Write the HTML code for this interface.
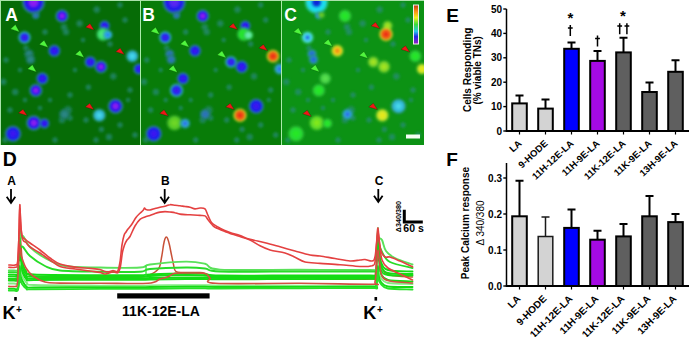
<!DOCTYPE html><html><head><meta charset="utf-8"><style>html,body{margin:0;padding:0;background:#fff;}svg{display:block}</style></head><body>
<svg width="690" height="337" viewBox="0 0 690 337">
<defs>
<filter id="bl" x="-50%" y="-50%" width="200%" height="200%"><feGaussianBlur stdDeviation="0.8"/></filter>
<filter id="bl3" x="-50%" y="-50%" width="200%" height="200%"><feGaussianBlur stdDeviation="0.35"/></filter>
<filter id="bl2" x="-50%" y="-50%" width="200%" height="200%"><feGaussianBlur stdDeviation="1.2"/></filter>
<radialGradient id="g1" cx="50%" cy="50%" r="50%"><stop offset="0" stop-color="rgb(140,30,240)"/><stop offset="0.243" stop-color="rgb(140,30,240)"/><stop offset="0.487" stop-color="rgb(40,22,236)"/><stop offset="0.689" stop-color="rgb(40,22,236)"/><stop offset="0.827" stop-color="rgb(40,130,150)" stop-opacity="0.85"/><stop offset="1" stop-color="rgb(40,130,150)" stop-opacity="0"/></radialGradient>
<radialGradient id="g2" cx="50%" cy="50%" r="50%"><stop offset="0" stop-color="rgb(140,30,240)"/><stop offset="0.209" stop-color="rgb(140,30,240)"/><stop offset="0.418" stop-color="rgb(40,22,236)"/><stop offset="0.592" stop-color="rgb(40,22,236)"/><stop offset="0.710" stop-color="rgb(40,130,150)" stop-opacity="0.85"/><stop offset="1" stop-color="rgb(40,130,150)" stop-opacity="0"/></radialGradient>
<radialGradient id="g3" cx="50%" cy="50%" r="50%"><stop offset="0" stop-color="rgb(45,110,190)"/><stop offset="0.162" stop-color="rgb(45,110,190)"/><stop offset="0.323" stop-color="rgb(40,125,160)"/><stop offset="0.458" stop-color="rgb(40,125,160)"/><stop offset="0.549" stop-color="rgb(30,120,100)" stop-opacity="0.85"/><stop offset="1" stop-color="rgb(30,120,100)" stop-opacity="0"/></radialGradient>
<radialGradient id="g4" cx="50%" cy="50%" r="50%"><stop offset="0" stop-color="rgb(60,25,240)"/><stop offset="0.203" stop-color="rgb(60,25,240)"/><stop offset="0.405" stop-color="rgb(35,50,235)"/><stop offset="0.574" stop-color="rgb(35,50,235)"/><stop offset="0.689" stop-color="rgb(50,170,200)" stop-opacity="0.85"/><stop offset="1" stop-color="rgb(50,170,200)" stop-opacity="0"/></radialGradient>
<radialGradient id="g5" cx="50%" cy="50%" r="50%"><stop offset="0" stop-color="rgb(60,25,240)"/><stop offset="0.203" stop-color="rgb(60,25,240)"/><stop offset="0.405" stop-color="rgb(30,30,235)"/><stop offset="0.574" stop-color="rgb(30,30,235)"/><stop offset="0.689" stop-color="rgb(40,120,170)" stop-opacity="0.85"/><stop offset="1" stop-color="rgb(40,120,170)" stop-opacity="0"/></radialGradient>
<radialGradient id="g6" cx="50%" cy="50%" r="50%"><stop offset="0" stop-color="rgb(45,135,135)"/><stop offset="0.184" stop-color="rgb(45,135,135)"/><stop offset="0.368" stop-color="rgb(35,128,118)"/><stop offset="0.521" stop-color="rgb(35,128,118)"/><stop offset="0.625" stop-color="rgb(25,118,85)" stop-opacity="0.85"/><stop offset="1" stop-color="rgb(25,118,85)" stop-opacity="0"/></radialGradient>
<radialGradient id="g7" cx="50%" cy="50%" r="50%"><stop offset="0" stop-color="rgb(45,135,135)"/><stop offset="0.184" stop-color="rgb(45,135,135)"/><stop offset="0.368" stop-color="rgb(35,128,118)"/><stop offset="0.521" stop-color="rgb(35,128,118)"/><stop offset="0.625" stop-color="rgb(25,118,85)" stop-opacity="0.85"/><stop offset="1" stop-color="rgb(25,118,85)" stop-opacity="0"/></radialGradient>
<radialGradient id="g8" cx="50%" cy="50%" r="50%"><stop offset="0" stop-color="rgb(60,25,240)"/><stop offset="0.191" stop-color="rgb(60,25,240)"/><stop offset="0.382" stop-color="rgb(30,30,235)"/><stop offset="0.541" stop-color="rgb(30,30,235)"/><stop offset="0.649" stop-color="rgb(40,120,170)" stop-opacity="0.85"/><stop offset="1" stop-color="rgb(40,120,170)" stop-opacity="0"/></radialGradient>
<radialGradient id="g9" cx="50%" cy="50%" r="50%"><stop offset="0" stop-color="rgb(80,235,130)"/><stop offset="0.210" stop-color="rgb(80,235,130)"/><stop offset="0.420" stop-color="rgb(60,225,110)"/><stop offset="0.595" stop-color="rgb(60,225,110)"/><stop offset="0.714" stop-color="rgb(40,180,80)" stop-opacity="0.85"/><stop offset="1" stop-color="rgb(40,180,80)" stop-opacity="0"/></radialGradient>
<radialGradient id="g10" cx="50%" cy="50%" r="50%"><stop offset="0" stop-color="rgb(70,215,235)"/><stop offset="0.205" stop-color="rgb(70,215,235)"/><stop offset="0.411" stop-color="rgb(50,185,215)"/><stop offset="0.582" stop-color="rgb(50,185,215)"/><stop offset="0.698" stop-color="rgb(40,150,130)" stop-opacity="0.85"/><stop offset="1" stop-color="rgb(40,150,130)" stop-opacity="0"/></radialGradient>
<radialGradient id="g11" cx="50%" cy="50%" r="50%"><stop offset="0" stop-color="rgb(60,25,240)"/><stop offset="0.199" stop-color="rgb(60,25,240)"/><stop offset="0.397" stop-color="rgb(30,30,235)"/><stop offset="0.563" stop-color="rgb(30,30,235)"/><stop offset="0.675" stop-color="rgb(40,120,170)" stop-opacity="0.85"/><stop offset="1" stop-color="rgb(40,120,170)" stop-opacity="0"/></radialGradient>
<radialGradient id="g12" cx="50%" cy="50%" r="50%"><stop offset="0" stop-color="rgb(140,30,240)"/><stop offset="0.206" stop-color="rgb(140,30,240)"/><stop offset="0.413" stop-color="rgb(40,22,236)"/><stop offset="0.585" stop-color="rgb(40,22,236)"/><stop offset="0.702" stop-color="rgb(40,130,150)" stop-opacity="0.85"/><stop offset="1" stop-color="rgb(40,130,150)" stop-opacity="0"/></radialGradient>
<radialGradient id="g13" cx="50%" cy="50%" r="50%"><stop offset="0" stop-color="rgb(60,25,240)"/><stop offset="0.196" stop-color="rgb(60,25,240)"/><stop offset="0.391" stop-color="rgb(30,30,235)"/><stop offset="0.554" stop-color="rgb(30,30,235)"/><stop offset="0.665" stop-color="rgb(40,120,170)" stop-opacity="0.85"/><stop offset="1" stop-color="rgb(40,120,170)" stop-opacity="0"/></radialGradient>
<radialGradient id="g14" cx="50%" cy="50%" r="50%"><stop offset="0" stop-color="rgb(60,25,240)"/><stop offset="0.203" stop-color="rgb(60,25,240)"/><stop offset="0.405" stop-color="rgb(30,30,235)"/><stop offset="0.574" stop-color="rgb(30,30,235)"/><stop offset="0.689" stop-color="rgb(40,120,170)" stop-opacity="0.85"/><stop offset="1" stop-color="rgb(40,120,170)" stop-opacity="0"/></radialGradient>
<radialGradient id="g15" cx="50%" cy="50%" r="50%"><stop offset="0" stop-color="rgb(140,30,240)"/><stop offset="0.209" stop-color="rgb(140,30,240)"/><stop offset="0.418" stop-color="rgb(40,22,236)"/><stop offset="0.592" stop-color="rgb(40,22,236)"/><stop offset="0.710" stop-color="rgb(40,130,150)" stop-opacity="0.85"/><stop offset="1" stop-color="rgb(40,130,150)" stop-opacity="0"/></radialGradient>
<radialGradient id="g16" cx="50%" cy="50%" r="50%"><stop offset="0" stop-color="rgb(140,30,240)"/><stop offset="0.219" stop-color="rgb(140,30,240)"/><stop offset="0.438" stop-color="rgb(40,22,236)"/><stop offset="0.621" stop-color="rgb(40,22,236)"/><stop offset="0.745" stop-color="rgb(40,130,150)" stop-opacity="0.85"/><stop offset="1" stop-color="rgb(40,130,150)" stop-opacity="0"/></radialGradient>
<radialGradient id="g17" cx="50%" cy="50%" r="50%"><stop offset="0" stop-color="rgb(60,25,240)"/><stop offset="0.187" stop-color="rgb(60,25,240)"/><stop offset="0.375" stop-color="rgb(30,30,235)"/><stop offset="0.531" stop-color="rgb(30,30,235)"/><stop offset="0.637" stop-color="rgb(40,120,170)" stop-opacity="0.85"/><stop offset="1" stop-color="rgb(40,120,170)" stop-opacity="0"/></radialGradient>
<radialGradient id="g18" cx="50%" cy="50%" r="50%"><stop offset="0" stop-color="rgb(60,25,240)"/><stop offset="0.223" stop-color="rgb(60,25,240)"/><stop offset="0.447" stop-color="rgb(30,30,235)"/><stop offset="0.633" stop-color="rgb(30,30,235)"/><stop offset="0.760" stop-color="rgb(40,120,170)" stop-opacity="0.85"/><stop offset="1" stop-color="rgb(40,120,170)" stop-opacity="0"/></radialGradient>
<radialGradient id="g19" cx="50%" cy="50%" r="50%"><stop offset="0" stop-color="rgb(45,135,135)"/><stop offset="0.196" stop-color="rgb(45,135,135)"/><stop offset="0.391" stop-color="rgb(35,128,118)"/><stop offset="0.554" stop-color="rgb(35,128,118)"/><stop offset="0.665" stop-color="rgb(25,118,85)" stop-opacity="0.85"/><stop offset="1" stop-color="rgb(25,118,85)" stop-opacity="0"/></radialGradient>
<radialGradient id="g20" cx="50%" cy="50%" r="50%"><stop offset="0" stop-color="rgb(140,30,240)"/><stop offset="0.219" stop-color="rgb(140,30,240)"/><stop offset="0.438" stop-color="rgb(40,22,236)"/><stop offset="0.621" stop-color="rgb(40,22,236)"/><stop offset="0.745" stop-color="rgb(40,130,150)" stop-opacity="0.85"/><stop offset="1" stop-color="rgb(40,130,150)" stop-opacity="0"/></radialGradient>
<radialGradient id="g21" cx="50%" cy="50%" r="50%"><stop offset="0" stop-color="rgb(70,215,235)"/><stop offset="0.209" stop-color="rgb(70,215,235)"/><stop offset="0.418" stop-color="rgb(50,185,215)"/><stop offset="0.592" stop-color="rgb(50,185,215)"/><stop offset="0.710" stop-color="rgb(40,150,130)" stop-opacity="0.85"/><stop offset="1" stop-color="rgb(40,150,130)" stop-opacity="0"/></radialGradient>
<radialGradient id="g22" cx="50%" cy="50%" r="50%"><stop offset="0" stop-color="rgb(90,40,240)"/><stop offset="0.243" stop-color="rgb(90,40,240)"/><stop offset="0.487" stop-color="rgb(35,30,235)"/><stop offset="0.689" stop-color="rgb(35,30,235)"/><stop offset="0.827" stop-color="rgb(40,120,170)" stop-opacity="0.85"/><stop offset="1" stop-color="rgb(40,120,170)" stop-opacity="0"/></radialGradient>
<radialGradient id="g23" cx="50%" cy="50%" r="50%"><stop offset="0" stop-color="rgb(140,30,240)"/><stop offset="0.209" stop-color="rgb(140,30,240)"/><stop offset="0.418" stop-color="rgb(40,22,236)"/><stop offset="0.592" stop-color="rgb(40,22,236)"/><stop offset="0.710" stop-color="rgb(40,130,150)" stop-opacity="0.85"/><stop offset="1" stop-color="rgb(40,130,150)" stop-opacity="0"/></radialGradient>
<radialGradient id="g24" cx="50%" cy="50%" r="50%"><stop offset="0" stop-color="rgb(45,110,190)"/><stop offset="0.162" stop-color="rgb(45,110,190)"/><stop offset="0.323" stop-color="rgb(40,125,160)"/><stop offset="0.458" stop-color="rgb(40,125,160)"/><stop offset="0.549" stop-color="rgb(30,120,100)" stop-opacity="0.85"/><stop offset="1" stop-color="rgb(30,120,100)" stop-opacity="0"/></radialGradient>
<radialGradient id="g25" cx="50%" cy="50%" r="50%"><stop offset="0" stop-color="rgb(60,25,240)"/><stop offset="0.203" stop-color="rgb(60,25,240)"/><stop offset="0.405" stop-color="rgb(35,50,235)"/><stop offset="0.574" stop-color="rgb(35,50,235)"/><stop offset="0.689" stop-color="rgb(50,170,200)" stop-opacity="0.85"/><stop offset="1" stop-color="rgb(50,170,200)" stop-opacity="0"/></radialGradient>
<radialGradient id="g26" cx="50%" cy="50%" r="50%"><stop offset="0" stop-color="rgb(60,25,240)"/><stop offset="0.203" stop-color="rgb(60,25,240)"/><stop offset="0.405" stop-color="rgb(30,30,235)"/><stop offset="0.574" stop-color="rgb(30,30,235)"/><stop offset="0.689" stop-color="rgb(40,120,170)" stop-opacity="0.85"/><stop offset="1" stop-color="rgb(40,120,170)" stop-opacity="0"/></radialGradient>
<radialGradient id="g27" cx="50%" cy="50%" r="50%"><stop offset="0" stop-color="rgb(45,110,190)"/><stop offset="0.184" stop-color="rgb(45,110,190)"/><stop offset="0.368" stop-color="rgb(40,125,160)"/><stop offset="0.521" stop-color="rgb(40,125,160)"/><stop offset="0.625" stop-color="rgb(30,120,100)" stop-opacity="0.85"/><stop offset="1" stop-color="rgb(30,120,100)" stop-opacity="0"/></radialGradient>
<radialGradient id="g28" cx="50%" cy="50%" r="50%"><stop offset="0" stop-color="rgb(45,110,190)"/><stop offset="0.184" stop-color="rgb(45,110,190)"/><stop offset="0.368" stop-color="rgb(40,125,160)"/><stop offset="0.521" stop-color="rgb(40,125,160)"/><stop offset="0.625" stop-color="rgb(30,120,100)" stop-opacity="0.85"/><stop offset="1" stop-color="rgb(30,120,100)" stop-opacity="0"/></radialGradient>
<radialGradient id="g29" cx="50%" cy="50%" r="50%"><stop offset="0" stop-color="rgb(60,25,240)"/><stop offset="0.191" stop-color="rgb(60,25,240)"/><stop offset="0.382" stop-color="rgb(30,30,235)"/><stop offset="0.541" stop-color="rgb(30,30,235)"/><stop offset="0.649" stop-color="rgb(40,120,170)" stop-opacity="0.85"/><stop offset="1" stop-color="rgb(40,120,170)" stop-opacity="0"/></radialGradient>
<radialGradient id="g30" cx="50%" cy="50%" r="50%"><stop offset="0" stop-color="rgb(40,230,40)"/><stop offset="0.210" stop-color="rgb(40,230,40)"/><stop offset="0.420" stop-color="rgb(40,225,50)"/><stop offset="0.595" stop-color="rgb(40,225,50)"/><stop offset="0.714" stop-color="rgb(40,185,60)" stop-opacity="0.85"/><stop offset="1" stop-color="rgb(40,185,60)" stop-opacity="0"/></radialGradient>
<radialGradient id="g31" cx="50%" cy="50%" r="50%"><stop offset="0" stop-color="rgb(238,45,20)"/><stop offset="0.205" stop-color="rgb(238,45,20)"/><stop offset="0.411" stop-color="rgb(240,100,20)"/><stop offset="0.582" stop-color="rgb(240,100,20)"/><stop offset="0.698" stop-color="rgb(215,205,40)" stop-opacity="0.85"/><stop offset="1" stop-color="rgb(215,205,40)" stop-opacity="0"/></radialGradient>
<radialGradient id="g32" cx="50%" cy="50%" r="50%"><stop offset="0" stop-color="rgb(60,25,240)"/><stop offset="0.199" stop-color="rgb(60,25,240)"/><stop offset="0.397" stop-color="rgb(35,50,235)"/><stop offset="0.563" stop-color="rgb(35,50,235)"/><stop offset="0.675" stop-color="rgb(50,170,200)" stop-opacity="0.85"/><stop offset="1" stop-color="rgb(50,170,200)" stop-opacity="0"/></radialGradient>
<radialGradient id="g33" cx="50%" cy="50%" r="50%"><stop offset="0" stop-color="rgb(60,25,240)"/><stop offset="0.206" stop-color="rgb(60,25,240)"/><stop offset="0.413" stop-color="rgb(30,30,235)"/><stop offset="0.585" stop-color="rgb(30,30,235)"/><stop offset="0.702" stop-color="rgb(40,120,170)" stop-opacity="0.85"/><stop offset="1" stop-color="rgb(40,120,170)" stop-opacity="0"/></radialGradient>
<radialGradient id="g34" cx="50%" cy="50%" r="50%"><stop offset="0" stop-color="rgb(45,110,235)"/><stop offset="0.196" stop-color="rgb(45,110,235)"/><stop offset="0.391" stop-color="rgb(45,160,215)"/><stop offset="0.554" stop-color="rgb(45,160,215)"/><stop offset="0.665" stop-color="rgb(35,150,140)" stop-opacity="0.85"/><stop offset="1" stop-color="rgb(35,150,140)" stop-opacity="0"/></radialGradient>
<radialGradient id="g35" cx="50%" cy="50%" r="50%"><stop offset="0" stop-color="rgb(60,25,240)"/><stop offset="0.203" stop-color="rgb(60,25,240)"/><stop offset="0.405" stop-color="rgb(30,30,235)"/><stop offset="0.574" stop-color="rgb(30,30,235)"/><stop offset="0.689" stop-color="rgb(40,120,170)" stop-opacity="0.85"/><stop offset="1" stop-color="rgb(40,120,170)" stop-opacity="0"/></radialGradient>
<radialGradient id="g36" cx="50%" cy="50%" r="50%"><stop offset="0" stop-color="rgb(60,25,240)"/><stop offset="0.209" stop-color="rgb(60,25,240)"/><stop offset="0.418" stop-color="rgb(35,50,235)"/><stop offset="0.592" stop-color="rgb(35,50,235)"/><stop offset="0.710" stop-color="rgb(50,170,200)" stop-opacity="0.85"/><stop offset="1" stop-color="rgb(50,170,200)" stop-opacity="0"/></radialGradient>
<radialGradient id="g37" cx="50%" cy="50%" r="50%"><stop offset="0" stop-color="rgb(110,215,40)"/><stop offset="0.219" stop-color="rgb(110,215,40)"/><stop offset="0.438" stop-color="rgb(90,205,40)"/><stop offset="0.621" stop-color="rgb(90,205,40)"/><stop offset="0.745" stop-color="rgb(60,180,40)" stop-opacity="0.85"/><stop offset="1" stop-color="rgb(60,180,40)" stop-opacity="0"/></radialGradient>
<radialGradient id="g38" cx="50%" cy="50%" r="50%"><stop offset="0" stop-color="rgb(45,110,235)"/><stop offset="0.187" stop-color="rgb(45,110,235)"/><stop offset="0.375" stop-color="rgb(45,160,215)"/><stop offset="0.531" stop-color="rgb(45,160,215)"/><stop offset="0.637" stop-color="rgb(35,150,140)" stop-opacity="0.85"/><stop offset="1" stop-color="rgb(35,150,140)" stop-opacity="0"/></radialGradient>
<radialGradient id="g39" cx="50%" cy="50%" r="50%"><stop offset="0" stop-color="rgb(60,25,240)"/><stop offset="0.223" stop-color="rgb(60,25,240)"/><stop offset="0.447" stop-color="rgb(30,30,235)"/><stop offset="0.633" stop-color="rgb(30,30,235)"/><stop offset="0.760" stop-color="rgb(40,120,170)" stop-opacity="0.85"/><stop offset="1" stop-color="rgb(40,120,170)" stop-opacity="0"/></radialGradient>
<radialGradient id="g40" cx="50%" cy="50%" r="50%"><stop offset="0" stop-color="rgb(45,110,190)"/><stop offset="0.196" stop-color="rgb(45,110,190)"/><stop offset="0.391" stop-color="rgb(40,125,160)"/><stop offset="0.554" stop-color="rgb(40,125,160)"/><stop offset="0.665" stop-color="rgb(30,120,100)" stop-opacity="0.85"/><stop offset="1" stop-color="rgb(30,120,100)" stop-opacity="0"/></radialGradient>
<radialGradient id="g41" cx="50%" cy="50%" r="50%"><stop offset="0" stop-color="rgb(60,25,240)"/><stop offset="0.219" stop-color="rgb(60,25,240)"/><stop offset="0.438" stop-color="rgb(30,30,235)"/><stop offset="0.621" stop-color="rgb(30,30,235)"/><stop offset="0.745" stop-color="rgb(40,120,170)" stop-opacity="0.85"/><stop offset="1" stop-color="rgb(40,120,170)" stop-opacity="0"/></radialGradient>
<radialGradient id="g42" cx="50%" cy="50%" r="50%"><stop offset="0" stop-color="rgb(238,45,20)"/><stop offset="0.209" stop-color="rgb(238,45,20)"/><stop offset="0.418" stop-color="rgb(240,100,20)"/><stop offset="0.592" stop-color="rgb(240,100,20)"/><stop offset="0.710" stop-color="rgb(215,205,40)" stop-opacity="0.85"/><stop offset="1" stop-color="rgb(215,205,40)" stop-opacity="0"/></radialGradient>
<radialGradient id="g43" cx="50%" cy="50%" r="50%"><stop offset="0" stop-color="rgb(10,40,215)"/><stop offset="0.243" stop-color="rgb(10,40,215)"/><stop offset="0.487" stop-color="rgb(30,222,240)"/><stop offset="0.689" stop-color="rgb(30,222,240)"/><stop offset="0.827" stop-color="rgb(40,200,170)" stop-opacity="0.85"/><stop offset="1" stop-color="rgb(40,200,170)" stop-opacity="0"/></radialGradient>
<radialGradient id="g44" cx="50%" cy="50%" r="50%"><stop offset="0" stop-color="rgb(40,232,40)"/><stop offset="0.209" stop-color="rgb(40,232,40)"/><stop offset="0.418" stop-color="rgb(40,220,50)"/><stop offset="0.592" stop-color="rgb(40,220,50)"/><stop offset="0.710" stop-color="rgb(40,180,50)" stop-opacity="0.85"/><stop offset="1" stop-color="rgb(40,180,50)" stop-opacity="0"/></radialGradient>
<radialGradient id="g45" cx="50%" cy="50%" r="50%"><stop offset="0" stop-color="rgb(45,110,235)"/><stop offset="0.162" stop-color="rgb(45,110,235)"/><stop offset="0.323" stop-color="rgb(45,160,215)"/><stop offset="0.458" stop-color="rgb(45,160,215)"/><stop offset="0.549" stop-color="rgb(35,150,140)" stop-opacity="0.85"/><stop offset="1" stop-color="rgb(35,150,140)" stop-opacity="0"/></radialGradient>
<radialGradient id="g46" cx="50%" cy="50%" r="50%"><stop offset="0" stop-color="rgb(40,120,230)"/><stop offset="0.203" stop-color="rgb(40,120,230)"/><stop offset="0.405" stop-color="rgb(70,215,235)"/><stop offset="0.574" stop-color="rgb(70,215,235)"/><stop offset="0.689" stop-color="rgb(60,200,140)" stop-opacity="0.85"/><stop offset="1" stop-color="rgb(60,200,140)" stop-opacity="0"/></radialGradient>
<radialGradient id="g47" cx="50%" cy="50%" r="50%"><stop offset="0" stop-color="rgb(245,140,20)"/><stop offset="0.203" stop-color="rgb(245,140,20)"/><stop offset="0.405" stop-color="rgb(235,205,30)"/><stop offset="0.574" stop-color="rgb(235,205,30)"/><stop offset="0.689" stop-color="rgb(150,210,40)" stop-opacity="0.85"/><stop offset="1" stop-color="rgb(150,210,40)" stop-opacity="0"/></radialGradient>
<radialGradient id="g48" cx="50%" cy="50%" r="50%"><stop offset="0" stop-color="rgb(40,100,220)"/><stop offset="0.184" stop-color="rgb(40,100,220)"/><stop offset="0.368" stop-color="rgb(40,130,200)"/><stop offset="0.521" stop-color="rgb(40,130,200)"/><stop offset="0.625" stop-color="rgb(40,150,120)" stop-opacity="0.85"/><stop offset="1" stop-color="rgb(40,150,120)" stop-opacity="0"/></radialGradient>
<radialGradient id="g49" cx="50%" cy="50%" r="50%"><stop offset="0" stop-color="rgb(40,100,220)"/><stop offset="0.184" stop-color="rgb(40,100,220)"/><stop offset="0.368" stop-color="rgb(40,130,200)"/><stop offset="0.521" stop-color="rgb(40,130,200)"/><stop offset="0.625" stop-color="rgb(40,150,120)" stop-opacity="0.85"/><stop offset="1" stop-color="rgb(40,150,120)" stop-opacity="0"/></radialGradient>
<radialGradient id="g50" cx="50%" cy="50%" r="50%"><stop offset="0" stop-color="rgb(165,228,35)"/><stop offset="0.191" stop-color="rgb(165,228,35)"/><stop offset="0.382" stop-color="rgb(130,215,40)"/><stop offset="0.541" stop-color="rgb(130,215,40)"/><stop offset="0.649" stop-color="rgb(70,185,40)" stop-opacity="0.85"/><stop offset="1" stop-color="rgb(70,185,40)" stop-opacity="0"/></radialGradient>
<radialGradient id="g51" cx="50%" cy="50%" r="50%"><stop offset="0" stop-color="rgb(238,45,20)"/><stop offset="0.210" stop-color="rgb(238,45,20)"/><stop offset="0.420" stop-color="rgb(240,100,20)"/><stop offset="0.595" stop-color="rgb(240,100,20)"/><stop offset="0.714" stop-color="rgb(215,205,40)" stop-opacity="0.85"/><stop offset="1" stop-color="rgb(215,205,40)" stop-opacity="0"/></radialGradient>
<radialGradient id="g52" cx="50%" cy="50%" r="50%"><stop offset="0" stop-color="rgb(40,232,40)"/><stop offset="0.205" stop-color="rgb(40,232,40)"/><stop offset="0.411" stop-color="rgb(40,220,50)"/><stop offset="0.582" stop-color="rgb(40,220,50)"/><stop offset="0.698" stop-color="rgb(40,180,50)" stop-opacity="0.85"/><stop offset="1" stop-color="rgb(40,180,50)" stop-opacity="0"/></radialGradient>
<radialGradient id="g53" cx="50%" cy="50%" r="50%"><stop offset="0" stop-color="rgb(165,228,35)"/><stop offset="0.199" stop-color="rgb(165,228,35)"/><stop offset="0.397" stop-color="rgb(130,215,40)"/><stop offset="0.563" stop-color="rgb(130,215,40)"/><stop offset="0.675" stop-color="rgb(70,185,40)" stop-opacity="0.85"/><stop offset="1" stop-color="rgb(70,185,40)" stop-opacity="0"/></radialGradient>
<radialGradient id="g54" cx="50%" cy="50%" r="50%"><stop offset="0" stop-color="rgb(165,228,35)"/><stop offset="0.206" stop-color="rgb(165,228,35)"/><stop offset="0.413" stop-color="rgb(130,215,40)"/><stop offset="0.585" stop-color="rgb(130,215,40)"/><stop offset="0.702" stop-color="rgb(70,185,40)" stop-opacity="0.85"/><stop offset="1" stop-color="rgb(70,185,40)" stop-opacity="0"/></radialGradient>
<radialGradient id="g55" cx="50%" cy="50%" r="50%"><stop offset="0" stop-color="rgb(232,232,30)"/><stop offset="0.196" stop-color="rgb(232,232,30)"/><stop offset="0.391" stop-color="rgb(205,230,40)"/><stop offset="0.554" stop-color="rgb(205,230,40)"/><stop offset="0.665" stop-color="rgb(120,200,40)" stop-opacity="0.85"/><stop offset="1" stop-color="rgb(120,200,40)" stop-opacity="0"/></radialGradient>
<radialGradient id="g56" cx="50%" cy="50%" r="50%"><stop offset="0" stop-color="rgb(90,225,80)"/><stop offset="0.203" stop-color="rgb(90,225,80)"/><stop offset="0.405" stop-color="rgb(70,210,70)"/><stop offset="0.574" stop-color="rgb(70,210,70)"/><stop offset="0.689" stop-color="rgb(40,175,50)" stop-opacity="0.85"/><stop offset="1" stop-color="rgb(40,175,50)" stop-opacity="0"/></radialGradient>
<radialGradient id="g57" cx="50%" cy="50%" r="50%"><stop offset="0" stop-color="rgb(40,232,40)"/><stop offset="0.209" stop-color="rgb(40,232,40)"/><stop offset="0.418" stop-color="rgb(40,220,50)"/><stop offset="0.592" stop-color="rgb(40,220,50)"/><stop offset="0.710" stop-color="rgb(40,180,50)" stop-opacity="0.85"/><stop offset="1" stop-color="rgb(40,180,50)" stop-opacity="0"/></radialGradient>
<radialGradient id="g58" cx="50%" cy="50%" r="50%"><stop offset="0" stop-color="rgb(130,232,30)"/><stop offset="0.219" stop-color="rgb(130,232,30)"/><stop offset="0.438" stop-color="rgb(100,222,40)"/><stop offset="0.621" stop-color="rgb(100,222,40)"/><stop offset="0.745" stop-color="rgb(60,190,40)" stop-opacity="0.85"/><stop offset="1" stop-color="rgb(60,190,40)" stop-opacity="0"/></radialGradient>
<radialGradient id="g59" cx="50%" cy="50%" r="50%"><stop offset="0" stop-color="rgb(40,232,40)"/><stop offset="0.187" stop-color="rgb(40,232,40)"/><stop offset="0.375" stop-color="rgb(40,220,50)"/><stop offset="0.531" stop-color="rgb(40,220,50)"/><stop offset="0.637" stop-color="rgb(40,180,50)" stop-opacity="0.85"/><stop offset="1" stop-color="rgb(40,180,50)" stop-opacity="0"/></radialGradient>
<radialGradient id="g60" cx="50%" cy="50%" r="50%"><stop offset="0" stop-color="rgb(40,232,40)"/><stop offset="0.223" stop-color="rgb(40,232,40)"/><stop offset="0.447" stop-color="rgb(40,220,50)"/><stop offset="0.633" stop-color="rgb(40,220,50)"/><stop offset="0.760" stop-color="rgb(40,180,50)" stop-opacity="0.85"/><stop offset="1" stop-color="rgb(40,180,50)" stop-opacity="0"/></radialGradient>
<radialGradient id="g61" cx="50%" cy="50%" r="50%"><stop offset="0" stop-color="rgb(45,110,235)"/><stop offset="0.196" stop-color="rgb(45,110,235)"/><stop offset="0.391" stop-color="rgb(45,160,215)"/><stop offset="0.554" stop-color="rgb(45,160,215)"/><stop offset="0.665" stop-color="rgb(35,150,140)" stop-opacity="0.85"/><stop offset="1" stop-color="rgb(35,150,140)" stop-opacity="0"/></radialGradient>
<radialGradient id="g62" cx="50%" cy="50%" r="50%"><stop offset="0" stop-color="rgb(70,215,235)"/><stop offset="0.219" stop-color="rgb(70,215,235)"/><stop offset="0.438" stop-color="rgb(50,185,215)"/><stop offset="0.621" stop-color="rgb(50,185,215)"/><stop offset="0.745" stop-color="rgb(40,150,130)" stop-opacity="0.85"/><stop offset="1" stop-color="rgb(40,150,130)" stop-opacity="0"/></radialGradient>
<radialGradient id="g63" cx="50%" cy="50%" r="50%"><stop offset="0" stop-color="rgb(232,232,30)"/><stop offset="0.209" stop-color="rgb(232,232,30)"/><stop offset="0.418" stop-color="rgb(205,230,40)"/><stop offset="0.592" stop-color="rgb(205,230,40)"/><stop offset="0.710" stop-color="rgb(120,200,40)" stop-opacity="0.85"/><stop offset="1" stop-color="rgb(120,200,40)" stop-opacity="0"/></radialGradient>
<radialGradient id="g64" cx="50%" cy="50%" r="50%"><stop offset="0" stop-color="rgb(40,130,240)"/><stop offset="0.180" stop-color="rgb(40,130,240)"/><stop offset="0.360" stop-color="rgb(50,170,230)"/><stop offset="0.510" stop-color="rgb(50,170,230)"/><stop offset="0.612" stop-color="rgb(40,160,160)" stop-opacity="0.85"/><stop offset="1" stop-color="rgb(40,160,160)" stop-opacity="0"/></radialGradient>
<radialGradient id="g65" cx="50%" cy="50%" r="50%"><stop offset="0" stop-color="rgb(110,235,180)"/><stop offset="0.180" stop-color="rgb(110,235,180)"/><stop offset="0.360" stop-color="rgb(90,230,150)"/><stop offset="0.510" stop-color="rgb(90,230,150)"/><stop offset="0.612" stop-color="rgb(50,200,90)" stop-opacity="0.85"/><stop offset="1" stop-color="rgb(50,200,90)" stop-opacity="0"/></radialGradient>
<radialGradient id="g66" cx="50%" cy="50%" r="50%"><stop offset="0" stop-color="rgb(110,205,40)"/><stop offset="0.153" stop-color="rgb(110,205,40)"/><stop offset="0.306" stop-color="rgb(90,195,40)"/><stop offset="0.434" stop-color="rgb(90,195,40)"/><stop offset="0.520" stop-color="rgb(60,175,40)" stop-opacity="0.85"/><stop offset="1" stop-color="rgb(60,175,40)" stop-opacity="0"/></radialGradient>
<radialGradient id="deb" cx="50%" cy="50%" r="50%"><stop offset="0" stop-color="rgb(40,140,130)" stop-opacity="0.85"/><stop offset="0.4" stop-color="rgb(40,140,130)" stop-opacity="0.6"/><stop offset="1" stop-color="rgb(40,140,130)" stop-opacity="0"/></radialGradient>
<clipPath id="cp0"><rect x="0" y="0" width="140" height="145"/></clipPath>
<clipPath id="cp1"><rect x="141" y="0" width="140" height="145"/></clipPath>
<clipPath id="cp2"><rect x="282" y="0" width="142" height="145"/></clipPath>
</defs>
<g clip-path="url(#cp0)">
<rect x="0" y="0" width="140" height="145" fill="rgb(6,108,6)"/>
<g filter="url(#bl2)">
<circle cx="36.0" cy="14.0" r="4.8" fill="url(#deb)"/>
<circle cx="64.0" cy="27.0" r="4.8" fill="url(#deb)"/>
<circle cx="66.0" cy="32.0" r="4.8" fill="url(#deb)"/>
<circle cx="96.7" cy="9.6" r="4.8" fill="url(#deb)"/>
<circle cx="79.6" cy="23.5" r="4.8" fill="url(#deb)"/>
<circle cx="3.3" cy="81.8" r="4.8" fill="url(#deb)"/>
<circle cx="15.2" cy="92.0" r="4.8" fill="url(#deb)"/>
<circle cx="109.0" cy="137.0" r="4.8" fill="url(#deb)"/>
<circle cx="101.4" cy="129.4" r="4.0" fill="url(#deb)"/>
<circle cx="88.4" cy="87.2" r="4.0" fill="url(#deb)"/>
<circle cx="113.3" cy="76.3" r="4.8" fill="url(#deb)"/>
<circle cx="70.0" cy="95.0" r="4.0" fill="url(#deb)"/>
<circle cx="86.0" cy="120.0" r="4.0" fill="url(#deb)"/>
<circle cx="120.0" cy="5.0" r="4.0" fill="url(#deb)"/>
<circle cx="6.0" cy="60.0" r="4.0" fill="url(#deb)"/>
<circle cx="50.0" cy="100.0" r="3.2" fill="url(#deb)"/>
<circle cx="130.0" cy="90.0" r="4.0" fill="url(#deb)"/>
<circle cx="125.0" cy="20.0" r="4.0" fill="url(#deb)"/>
<circle cx="10.0" cy="110.0" r="4.0" fill="url(#deb)"/>
<circle cx="68.0" cy="110.0" r="5.6" fill="url(#deb)"/>
<circle cx="62.0" cy="120.0" r="4.8" fill="url(#deb)"/>
<circle cx="70.0" cy="118.0" r="4.0" fill="url(#deb)"/>
<circle cx="45.0" cy="32.0" r="4.0" fill="url(#deb)"/>
<circle cx="26.0" cy="48.0" r="4.0" fill="url(#deb)"/>
<circle cx="110.0" cy="44.0" r="4.0" fill="url(#deb)"/>
<circle cx="83.0" cy="40.0" r="3.2" fill="url(#deb)"/>
<circle cx="5.0" cy="140.0" r="4.0" fill="url(#deb)"/>
<circle cx="25.0" cy="100.0" r="3.2" fill="url(#deb)"/>
<circle cx="120.0" cy="125.0" r="4.0" fill="url(#deb)"/>
<circle cx="135.0" cy="135.0" r="4.0" fill="url(#deb)"/>
<circle cx="55.0" cy="140.0" r="4.0" fill="url(#deb)"/>
<circle cx="75.0" cy="70.0" r="3.2" fill="url(#deb)"/>
<circle cx="128.0" cy="100.0" r="3.2" fill="url(#deb)"/>
<circle cx="96.0" cy="140.0" r="4.0" fill="url(#deb)"/>
<circle cx="40.0" cy="108.0" r="3.2" fill="url(#deb)"/>
<circle cx="20.0" cy="70.0" r="3.2" fill="url(#deb)"/>
</g>
<g filter="url(#bl)">
<circle cx="33.5" cy="2.3" r="12.7" fill="url(#g1)"/>
<circle cx="62.0" cy="16.0" r="7.9" fill="url(#g2)"/>
<circle cx="35.8" cy="15.5" r="5.2" fill="url(#g3)"/>
<circle cx="24.5" cy="37.5" r="7.4" fill="url(#g4)"/>
<circle cx="54.3" cy="50.8" r="7.4" fill="url(#g5)"/>
<circle cx="29.0" cy="54.0" r="6.2" fill="url(#g6)"/>
<circle cx="30.5" cy="59.5" r="6.2" fill="url(#g7)"/>
<circle cx="104.6" cy="25.8" r="6.6" fill="url(#g8)"/>
<circle cx="103.0" cy="34.3" r="8.0" fill="url(#g9)"/>
<circle cx="132.3" cy="56.2" r="7.6" fill="url(#g10)"/>
<circle cx="90.3" cy="62.0" r="7.1" fill="url(#g11)"/>
<circle cx="101.0" cy="66.8" r="7.7" fill="url(#g12)"/>
<circle cx="139.0" cy="69.0" r="6.9" fill="url(#g13)"/>
<circle cx="42.3" cy="78.5" r="7.4" fill="url(#g14)"/>
<circle cx="35.8" cy="90.4" r="7.9" fill="url(#g15)"/>
<circle cx="33.8" cy="122.9" r="8.9" fill="url(#g16)"/>
<circle cx="44.4" cy="123.4" r="6.4" fill="url(#g17)"/>
<circle cx="13.0" cy="133.8" r="9.4" fill="url(#g18)"/>
<circle cx="64.5" cy="114.3" r="6.9" fill="url(#g19)"/>
<circle cx="115.5" cy="106.2" r="8.9" fill="url(#g20)"/>
<circle cx="99.3" cy="115.3" r="7.9" fill="url(#g21)"/>
<circle cx="107.8" cy="34.8" r="6.0" fill="url(#g64)"/>
</g>
<g filter="url(#bl3)">
<path d="M10.5 28.9 L15.4 24.6 L19.5 31.9 Z" fill="rgb(80,245,60)" stroke="rgb(0,60,0)" stroke-opacity="0.35" stroke-width="0.8"/>
<path d="M39.2 44.5 L44.1 40.2 L48.2 47.5 Z" fill="rgb(80,245,60)" stroke="rgb(0,60,0)" stroke-opacity="0.35" stroke-width="0.8"/>
<path d="M27.5 69.0 L32.4 64.8 L36.5 72.0 Z" fill="rgb(80,245,60)" stroke="rgb(0,60,0)" stroke-opacity="0.35" stroke-width="0.8"/>
<path d="M75.1 54.5 L80.0 50.2 L84.1 57.5 Z" fill="rgb(80,245,60)" stroke="rgb(0,60,0)" stroke-opacity="0.35" stroke-width="0.8"/>
<path d="M85.5 27.2 L90.0 23.6 L94.1 29.9 Z" fill="rgb(240,25,25)" stroke="rgb(40,30,0)" stroke-opacity="0.4" stroke-width="0.8"/>
<path d="M115.7 51.7 L120.2 48.1 L124.3 54.4 Z" fill="rgb(240,25,25)" stroke="rgb(40,30,0)" stroke-opacity="0.4" stroke-width="0.8"/>
<path d="M18.5 112.9 L23.0 109.3 L27.1 115.6 Z" fill="rgb(240,25,25)" stroke="rgb(40,30,0)" stroke-opacity="0.4" stroke-width="0.8"/>
<path d="M85.2 106.9 L89.7 103.3 L93.8 109.6 Z" fill="rgb(240,25,25)" stroke="rgb(40,30,0)" stroke-opacity="0.4" stroke-width="0.8"/>
</g>
</g>
<text x="5.3" y="21" font-family="'Liberation Sans', sans-serif" font-weight="bold" font-size="17.5" fill="#fff">A</text>
<g clip-path="url(#cp1)">
<rect x="141" y="0" width="140" height="145" fill="rgb(8,124,8)"/>
<g filter="url(#bl2)">
<circle cx="176.7" cy="14.0" r="4.8" fill="url(#deb)"/>
<circle cx="204.7" cy="27.0" r="4.8" fill="url(#deb)"/>
<circle cx="206.7" cy="32.0" r="4.8" fill="url(#deb)"/>
<circle cx="237.4" cy="9.6" r="4.8" fill="url(#deb)"/>
<circle cx="220.3" cy="23.5" r="4.8" fill="url(#deb)"/>
<circle cx="144.0" cy="81.8" r="4.8" fill="url(#deb)"/>
<circle cx="155.9" cy="92.0" r="4.8" fill="url(#deb)"/>
<circle cx="249.7" cy="137.0" r="4.8" fill="url(#deb)"/>
<circle cx="242.1" cy="129.4" r="4.0" fill="url(#deb)"/>
<circle cx="229.1" cy="87.2" r="4.0" fill="url(#deb)"/>
<circle cx="254.0" cy="76.3" r="4.8" fill="url(#deb)"/>
<circle cx="210.7" cy="95.0" r="4.0" fill="url(#deb)"/>
<circle cx="226.7" cy="120.0" r="4.0" fill="url(#deb)"/>
<circle cx="260.7" cy="5.0" r="4.0" fill="url(#deb)"/>
<circle cx="146.7" cy="60.0" r="4.0" fill="url(#deb)"/>
<circle cx="190.7" cy="100.0" r="3.2" fill="url(#deb)"/>
<circle cx="270.7" cy="90.0" r="4.0" fill="url(#deb)"/>
<circle cx="265.7" cy="20.0" r="4.0" fill="url(#deb)"/>
<circle cx="150.7" cy="110.0" r="4.0" fill="url(#deb)"/>
<circle cx="208.7" cy="110.0" r="5.6" fill="url(#deb)"/>
<circle cx="202.7" cy="120.0" r="4.8" fill="url(#deb)"/>
<circle cx="210.7" cy="118.0" r="4.0" fill="url(#deb)"/>
<circle cx="185.7" cy="32.0" r="4.0" fill="url(#deb)"/>
<circle cx="166.7" cy="48.0" r="4.0" fill="url(#deb)"/>
<circle cx="250.7" cy="44.0" r="4.0" fill="url(#deb)"/>
<circle cx="223.7" cy="40.0" r="3.2" fill="url(#deb)"/>
<circle cx="145.7" cy="140.0" r="4.0" fill="url(#deb)"/>
<circle cx="165.7" cy="100.0" r="3.2" fill="url(#deb)"/>
<circle cx="260.7" cy="125.0" r="4.0" fill="url(#deb)"/>
<circle cx="275.7" cy="135.0" r="4.0" fill="url(#deb)"/>
<circle cx="195.7" cy="140.0" r="4.0" fill="url(#deb)"/>
<circle cx="215.7" cy="70.0" r="3.2" fill="url(#deb)"/>
<circle cx="268.7" cy="100.0" r="3.2" fill="url(#deb)"/>
<circle cx="236.7" cy="140.0" r="4.0" fill="url(#deb)"/>
<circle cx="180.7" cy="108.0" r="3.2" fill="url(#deb)"/>
<circle cx="160.7" cy="70.0" r="3.2" fill="url(#deb)"/>
</g>
<g filter="url(#bl)">
<circle cx="174.2" cy="2.3" r="12.7" fill="url(#g22)"/>
<circle cx="202.7" cy="16.0" r="7.9" fill="url(#g23)"/>
<circle cx="176.5" cy="15.5" r="5.2" fill="url(#g24)"/>
<circle cx="165.2" cy="37.5" r="7.4" fill="url(#g25)"/>
<circle cx="195.0" cy="50.8" r="7.4" fill="url(#g26)"/>
<circle cx="169.7" cy="54.0" r="6.2" fill="url(#g27)"/>
<circle cx="171.2" cy="59.5" r="6.2" fill="url(#g28)"/>
<circle cx="245.3" cy="25.8" r="6.6" fill="url(#g29)"/>
<circle cx="243.7" cy="34.3" r="8.0" fill="url(#g30)"/>
<circle cx="273.0" cy="56.2" r="7.6" fill="url(#g31)"/>
<circle cx="231.0" cy="62.0" r="7.1" fill="url(#g32)"/>
<circle cx="241.7" cy="66.8" r="7.7" fill="url(#g33)"/>
<circle cx="279.7" cy="69.0" r="6.9" fill="url(#g34)"/>
<circle cx="183.0" cy="78.5" r="7.4" fill="url(#g35)"/>
<circle cx="176.5" cy="90.4" r="7.9" fill="url(#g36)"/>
<circle cx="174.5" cy="122.9" r="8.9" fill="url(#g37)"/>
<circle cx="185.1" cy="123.4" r="6.4" fill="url(#g38)"/>
<circle cx="153.7" cy="133.8" r="9.4" fill="url(#g39)"/>
<circle cx="205.2" cy="114.3" r="6.9" fill="url(#g40)"/>
<circle cx="256.2" cy="106.2" r="8.9" fill="url(#g41)"/>
<circle cx="240.0" cy="115.3" r="7.9" fill="url(#g42)"/>
<circle cx="248.5" cy="35.2" r="6.0" fill="url(#g65)"/>
</g>
<g filter="url(#bl3)">
<path d="M150.7 31.5 L155.6 27.2 L159.7 34.5 Z" fill="rgb(80,245,60)" stroke="rgb(0,60,0)" stroke-opacity="0.35" stroke-width="0.8"/>
<path d="M180.2 44.2 L185.1 40.0 L189.2 47.2 Z" fill="rgb(80,245,60)" stroke="rgb(0,60,0)" stroke-opacity="0.35" stroke-width="0.8"/>
<path d="M168.5 69.5 L173.4 65.2 L177.5 72.5 Z" fill="rgb(80,245,60)" stroke="rgb(0,60,0)" stroke-opacity="0.35" stroke-width="0.8"/>
<path d="M217.2 55.0 L222.1 50.8 L226.2 58.0 Z" fill="rgb(80,245,60)" stroke="rgb(0,60,0)" stroke-opacity="0.35" stroke-width="0.8"/>
<path d="M228.9 26.9 L233.4 23.3 L237.5 29.6 Z" fill="rgb(240,25,25)" stroke="rgb(40,30,0)" stroke-opacity="0.4" stroke-width="0.8"/>
<path d="M258.9 48.0 L263.4 44.4 L267.5 50.7 Z" fill="rgb(240,25,25)" stroke="rgb(40,30,0)" stroke-opacity="0.4" stroke-width="0.8"/>
<path d="M159.6 113.4 L164.1 109.8 L168.2 116.1 Z" fill="rgb(240,25,25)" stroke="rgb(40,30,0)" stroke-opacity="0.4" stroke-width="0.8"/>
<path d="M225.7 106.9 L230.2 103.3 L234.3 109.6 Z" fill="rgb(240,25,25)" stroke="rgb(40,30,0)" stroke-opacity="0.4" stroke-width="0.8"/>
</g>
</g>
<text x="142.3" y="21" font-family="'Liberation Sans', sans-serif" font-weight="bold" font-size="17.5" fill="#fff">B</text>
<g clip-path="url(#cp2)">
<rect x="282" y="0" width="142" height="145" fill="rgb(12,146,20)"/>
<g filter="url(#bl2)">
<circle cx="319.0" cy="14.0" r="4.8" fill="url(#deb)"/>
<circle cx="347.0" cy="27.0" r="4.8" fill="url(#deb)"/>
<circle cx="349.0" cy="32.0" r="4.8" fill="url(#deb)"/>
<circle cx="379.7" cy="9.6" r="4.8" fill="url(#deb)"/>
<circle cx="362.6" cy="23.5" r="4.8" fill="url(#deb)"/>
<circle cx="286.3" cy="81.8" r="4.8" fill="url(#deb)"/>
<circle cx="298.2" cy="92.0" r="4.8" fill="url(#deb)"/>
<circle cx="392.0" cy="137.0" r="4.8" fill="url(#deb)"/>
<circle cx="384.4" cy="129.4" r="4.0" fill="url(#deb)"/>
<circle cx="371.4" cy="87.2" r="4.0" fill="url(#deb)"/>
<circle cx="396.3" cy="76.3" r="4.8" fill="url(#deb)"/>
<circle cx="353.0" cy="95.0" r="4.0" fill="url(#deb)"/>
<circle cx="369.0" cy="120.0" r="4.0" fill="url(#deb)"/>
<circle cx="403.0" cy="5.0" r="4.0" fill="url(#deb)"/>
<circle cx="289.0" cy="60.0" r="4.0" fill="url(#deb)"/>
<circle cx="333.0" cy="100.0" r="3.2" fill="url(#deb)"/>
<circle cx="413.0" cy="90.0" r="4.0" fill="url(#deb)"/>
<circle cx="408.0" cy="20.0" r="4.0" fill="url(#deb)"/>
<circle cx="293.0" cy="110.0" r="4.0" fill="url(#deb)"/>
<circle cx="351.0" cy="110.0" r="5.6" fill="url(#deb)"/>
<circle cx="345.0" cy="120.0" r="4.8" fill="url(#deb)"/>
<circle cx="353.0" cy="118.0" r="4.0" fill="url(#deb)"/>
<circle cx="328.0" cy="32.0" r="4.0" fill="url(#deb)"/>
<circle cx="309.0" cy="48.0" r="4.0" fill="url(#deb)"/>
<circle cx="393.0" cy="44.0" r="4.0" fill="url(#deb)"/>
<circle cx="366.0" cy="40.0" r="3.2" fill="url(#deb)"/>
<circle cx="288.0" cy="140.0" r="4.0" fill="url(#deb)"/>
<circle cx="308.0" cy="100.0" r="3.2" fill="url(#deb)"/>
<circle cx="403.0" cy="125.0" r="4.0" fill="url(#deb)"/>
<circle cx="418.0" cy="135.0" r="4.0" fill="url(#deb)"/>
<circle cx="338.0" cy="140.0" r="4.0" fill="url(#deb)"/>
<circle cx="358.0" cy="70.0" r="3.2" fill="url(#deb)"/>
<circle cx="411.0" cy="100.0" r="3.2" fill="url(#deb)"/>
<circle cx="379.0" cy="140.0" r="4.0" fill="url(#deb)"/>
<circle cx="323.0" cy="108.0" r="3.2" fill="url(#deb)"/>
<circle cx="303.0" cy="70.0" r="3.2" fill="url(#deb)"/>
</g>
<g filter="url(#bl)">
<circle cx="316.5" cy="2.3" r="12.7" fill="url(#g43)"/>
<circle cx="345.0" cy="16.0" r="7.9" fill="url(#g44)"/>
<circle cx="318.8" cy="15.5" r="5.2" fill="url(#g45)"/>
<circle cx="307.5" cy="37.5" r="7.4" fill="url(#g46)"/>
<circle cx="337.3" cy="50.8" r="7.4" fill="url(#g47)"/>
<circle cx="312.0" cy="54.0" r="6.2" fill="url(#g48)"/>
<circle cx="313.5" cy="59.5" r="6.2" fill="url(#g49)"/>
<circle cx="387.6" cy="25.8" r="6.6" fill="url(#g50)"/>
<circle cx="386.0" cy="34.3" r="8.0" fill="url(#g51)"/>
<circle cx="415.3" cy="56.2" r="7.6" fill="url(#g52)"/>
<circle cx="373.3" cy="62.0" r="7.1" fill="url(#g53)"/>
<circle cx="384.0" cy="66.8" r="7.7" fill="url(#g54)"/>
<circle cx="422.0" cy="69.0" r="6.9" fill="url(#g55)"/>
<circle cx="325.3" cy="78.5" r="7.4" fill="url(#g56)"/>
<circle cx="318.8" cy="90.4" r="7.9" fill="url(#g57)"/>
<circle cx="316.8" cy="122.9" r="8.9" fill="url(#g58)"/>
<circle cx="327.4" cy="123.4" r="6.4" fill="url(#g59)"/>
<circle cx="296.0" cy="133.8" r="9.4" fill="url(#g60)"/>
<circle cx="347.5" cy="114.3" r="6.9" fill="url(#g61)"/>
<circle cx="398.5" cy="106.2" r="8.9" fill="url(#g62)"/>
<circle cx="382.3" cy="115.3" r="7.9" fill="url(#g63)"/>
<circle cx="321.5" cy="15.0" r="4.9" fill="url(#g66)"/>
</g>
<g filter="url(#bl3)">
<path d="M293.5 32.0 L298.4 27.8 L302.5 35.0 Z" fill="rgb(80,245,60)" stroke="rgb(0,60,0)" stroke-opacity="0.35" stroke-width="0.8"/>
<path d="M323.5 43.5 L328.4 39.2 L332.5 46.5 Z" fill="rgb(80,245,60)" stroke="rgb(0,60,0)" stroke-opacity="0.35" stroke-width="0.8"/>
<path d="M310.5 69.1 L315.4 64.8 L319.5 72.1 Z" fill="rgb(80,245,60)" stroke="rgb(0,60,0)" stroke-opacity="0.35" stroke-width="0.8"/>
<path d="M359.1 55.6 L364.0 51.4 L368.1 58.6 Z" fill="rgb(80,245,60)" stroke="rgb(0,60,0)" stroke-opacity="0.35" stroke-width="0.8"/>
<path d="M371.1 25.9 L375.6 22.3 L379.7 28.6 Z" fill="rgb(240,25,25)" stroke="rgb(40,30,0)" stroke-opacity="0.4" stroke-width="0.8"/>
<path d="M401.0 49.3 L405.5 45.7 L409.6 52.0 Z" fill="rgb(240,25,25)" stroke="rgb(40,30,0)" stroke-opacity="0.4" stroke-width="0.8"/>
<path d="M302.7 113.8 L307.2 110.2 L311.3 116.5 Z" fill="rgb(240,25,25)" stroke="rgb(40,30,0)" stroke-opacity="0.4" stroke-width="0.8"/>
<path d="M368.8 106.9 L373.3 103.3 L377.4 109.6 Z" fill="rgb(240,25,25)" stroke="rgb(40,30,0)" stroke-opacity="0.4" stroke-width="0.8"/>
</g>
</g>
<text x="284.3" y="21" font-family="'Liberation Sans', sans-serif" font-weight="bold" font-size="17.5" fill="#fff">C</text>
<rect x="0" y="0" width="424" height="1" fill="rgb(170,225,170)"/>
<rect x="0" y="0" width="1" height="145" fill="rgb(170,225,170)"/>
<rect x="140" y="0" width="1" height="145" fill="rgb(170,235,170)"/>
<rect x="281" y="0" width="1" height="145" fill="rgb(170,235,170)"/>
<defs><linearGradient id="cbar" x1="0" y1="0" x2="0" y2="1"><stop offset="0" stop-color="rgb(200,60,20)"/><stop offset="0.15" stop-color="rgb(250,140,20)"/><stop offset="0.32" stop-color="rgb(240,240,30)"/><stop offset="0.5" stop-color="rgb(60,220,60)"/><stop offset="0.68" stop-color="rgb(40,200,230)"/><stop offset="0.82" stop-color="rgb(30,40,230)"/><stop offset="1" stop-color="rgb(150,30,200)"/></linearGradient></defs>
<rect x="413" y="4.5" width="6" height="40" fill="#eee"/>
<rect x="414" y="5.5" width="4" height="38" fill="url(#cbar)"/>
<rect x="406" y="134.5" width="14" height="4" fill="#f4fff4"/>
<text x="2.8" y="165.8" font-family="'Liberation Sans', sans-serif" font-weight="bold" font-size="19.5" fill="#000">D</text>
<text x="11.6" y="184.6" text-anchor="middle" font-family="'Liberation Sans', sans-serif" font-weight="bold" font-size="12" fill="#000">A</text>
<path d="M11.0 189.0 L11.0 203.3 M6.7 196.8 L11.0 203.0 L15.3 196.8" stroke="#000" stroke-width="1.8" fill="none"/>
<text x="165.3" y="184.6" text-anchor="middle" font-family="'Liberation Sans', sans-serif" font-weight="bold" font-size="12" fill="#000">B</text>
<path d="M164.7 189.0 L164.7 203.2 M160.4 196.7 L164.7 202.9 L169.0 196.7" stroke="#000" stroke-width="1.8" fill="none"/>
<text x="379.2" y="184.6" text-anchor="middle" font-family="'Liberation Sans', sans-serif" font-weight="bold" font-size="12" fill="#000">C</text>
<path d="M378.3 189.0 L378.3 202.3 M374.0 195.8 L378.3 202.0 L382.6 195.8" stroke="#000" stroke-width="1.8" fill="none"/>
<g fill="none" stroke-linejoin="round" stroke-linecap="round">
<path d="M8.8 279.0 C9.8 279.0 13.5 279.5 15.0 279.0 C16.5 278.5 17.0 280.8 17.6 276.0 C18.2 271.2 18.4 258.0 18.8 250.0 C19.2 242.0 19.4 228.8 19.8 228.0 C20.2 227.2 20.5 238.8 21.0 245.0 C21.5 251.2 21.8 260.2 23.0 265.0 C24.2 269.8 25.2 272.0 28.0 274.0 C30.8 276.0 31.3 276.4 40.0 277.0 C48.7 277.6 63.3 277.5 80.0 277.5 C96.7 277.5 128.7 277.4 140.0 277.0 C151.3 276.6 145.5 276.2 148.0 275.4 C150.5 274.6 153.1 273.4 155.0 272.0 C156.9 270.6 158.4 269.7 159.5 267.0 C160.6 264.3 161.1 259.7 161.8 256.0 C162.5 252.3 163.0 247.9 163.5 245.0 C164.0 242.1 164.5 240.1 165.0 238.8 C165.5 237.5 165.9 237.0 166.3 237.0 C166.8 237.0 167.2 237.5 167.7 238.8 C168.2 240.1 168.9 242.3 169.5 245.0 C170.1 247.7 170.8 251.8 171.5 255.0 C172.2 258.2 172.8 261.7 173.5 264.5 C174.2 267.3 174.1 270.4 176.0 271.7 C177.9 273.0 181.0 272.4 185.0 272.5 C189.0 272.6 196.7 272.3 200.0 272.5 C203.3 272.7 203.3 272.7 205.0 273.5 C206.7 274.3 208.3 276.6 210.0 277.5 C211.7 278.4 200.0 278.9 215.0 279.2 C230.0 279.5 273.8 279.3 300.0 279.3 C326.2 279.3 359.5 279.4 372.0 279.0 C384.5 278.6 374.2 281.8 375.0 277.0 C375.8 272.2 376.5 256.5 377.0 250.0 C377.5 243.5 377.6 237.7 378.0 238.0 C378.4 238.3 378.8 247.0 379.5 252.0 C380.2 257.0 380.2 264.2 382.0 268.0 C383.8 271.8 384.9 273.5 390.0 275.0 C395.1 276.5 408.8 276.7 412.5 277.0" stroke="rgb(200,80,55)" stroke-width="1.5"/>
<path d="M8.8 270.4 C9.7 270.4 12.5 270.4 14.0 270.4 C15.5 270.4 16.8 271.4 17.6 270.4 C18.4 269.4 18.5 269.6 18.8 264.4 C19.1 259.2 19.3 244.7 19.4 239.0 C19.6 233.3 19.7 230.0 19.8 230.0 C19.9 230.0 19.8 238.0 20.3 239.0 C20.8 240.0 21.4 234.7 23.0 236.0 C24.6 237.3 26.3 243.3 30.0 247.0 C33.7 250.7 39.2 254.8 45.0 258.0 C50.8 261.2 55.8 264.4 65.0 266.0 C74.2 267.6 87.5 267.2 100.0 267.5 C112.5 267.8 131.7 268.0 140.0 267.5 C148.3 267.0 142.3 265.5 150.0 264.5 C157.7 263.5 176.8 261.7 186.0 261.6 C195.2 261.5 199.3 262.5 205.0 263.8 C210.7 265.1 204.2 268.6 220.0 269.6 C235.8 270.6 275.0 269.7 300.0 269.8 C325.0 269.9 357.4 270.0 370.0 270.0 C382.6 270.0 374.6 271.0 375.7 270.0 C376.8 269.0 376.6 269.5 376.9 264.0 C377.2 258.5 377.4 243.0 377.5 237.0 C377.7 231.0 377.8 228.0 377.9 228.0 C378.0 228.0 377.7 235.0 378.4 237.0 C379.1 239.0 380.7 237.7 382.0 240.0 C383.3 242.3 383.8 248.0 386.0 251.0 C388.2 254.0 390.6 255.8 395.0 258.0 C399.4 260.2 409.6 263.4 412.5 264.5" stroke="rgb(90,225,90)" stroke-width="1.9"/>
<path d="M8.8 272.2 C9.7 272.2 12.5 272.2 14.0 272.2 C15.5 272.2 16.8 273.2 17.6 272.2 C18.4 271.2 18.5 270.4 18.8 266.2 C19.1 262.0 19.3 251.7 19.4 247.0 C19.6 242.3 19.7 238.0 19.8 238.0 C19.9 238.0 19.8 245.5 20.3 247.0 C20.8 248.5 21.4 245.5 23.0 247.0 C24.6 248.5 26.3 252.8 30.0 256.0 C33.7 259.2 40.0 263.6 45.0 266.0 C50.0 268.4 50.8 269.6 60.0 270.5 C69.2 271.4 86.7 271.5 100.0 271.7 C113.3 271.9 131.7 272.1 140.0 271.7 C148.3 271.2 142.3 269.7 150.0 269.0 C157.7 268.3 176.8 267.6 186.0 267.5 C195.2 267.4 199.3 267.8 205.0 268.5 C210.7 269.2 204.2 271.0 220.0 271.5 C235.8 272.0 275.0 271.5 300.0 271.5 C325.0 271.5 357.4 271.5 370.0 271.5 C382.6 271.5 374.6 272.5 375.7 271.5 C376.8 270.5 376.6 270.4 376.9 265.5 C377.2 260.6 377.4 247.4 377.5 242.0 C377.7 236.6 377.8 233.0 377.9 233.0 C378.0 233.0 377.7 238.8 378.4 242.0 C379.1 245.2 380.1 248.7 382.0 252.0 C383.9 255.3 384.9 259.3 390.0 262.0 C395.1 264.7 408.8 267.0 412.5 268.0" stroke="rgb(40,220,40)" stroke-width="1.9"/>
<path d="M8.8 274.6 C9.7 274.6 12.5 274.6 14.0 274.6 C15.5 274.6 16.8 275.6 17.6 274.6 C18.4 273.6 18.5 272.0 18.8 268.6 C19.1 265.2 19.3 257.9 19.4 254.0 C19.6 250.1 19.7 245.0 19.8 245.0 C19.9 245.0 19.9 251.2 20.3 254.0 C20.7 256.8 21.1 259.2 22.0 262.0 C22.9 264.8 24.0 268.9 26.0 271.0 C28.0 273.1 21.7 273.8 34.0 274.5 C46.3 275.2 82.3 275.1 100.0 275.2 C117.7 275.3 131.7 275.3 140.0 275.2 C148.3 275.1 142.3 274.8 150.0 274.5 C157.7 274.2 176.8 273.6 186.0 273.5 C195.2 273.4 199.3 273.7 205.0 274.0 C210.7 274.3 204.2 275.2 220.0 275.5 C235.8 275.8 275.0 275.5 300.0 275.5 C325.0 275.5 357.4 275.5 370.0 275.5 C382.6 275.5 374.6 276.5 375.7 275.5 C376.8 274.5 376.6 274.2 376.9 269.5 C377.2 264.8 377.4 252.2 377.5 247.0 C377.7 241.8 377.8 238.0 377.9 238.0 C378.0 238.0 377.9 243.0 378.4 247.0 C378.9 251.0 379.4 258.2 381.0 262.0 C382.6 265.8 382.8 268.4 388.0 270.0 C393.2 271.6 408.4 271.2 412.5 271.5" stroke="rgb(20,220,20)" stroke-width="1.9"/>
<path d="M8.8 276.4 C9.7 276.4 12.5 276.4 14.0 276.4 C15.5 276.4 16.8 277.4 17.6 276.4 C18.4 275.4 18.5 273.3 18.8 270.4 C19.1 267.5 19.3 262.4 19.4 259.0 C19.6 255.6 19.7 250.0 19.8 250.0 C19.9 250.0 19.9 256.3 20.3 259.0 C20.7 261.7 21.1 263.5 22.0 266.0 C22.9 268.5 24.0 272.2 26.0 274.0 C28.0 275.8 21.7 276.1 34.0 276.5 C46.3 276.9 82.3 276.7 100.0 276.7 C117.7 276.7 131.7 276.8 140.0 276.7 C148.3 276.6 142.3 276.3 150.0 276.0 C157.7 275.7 176.8 275.1 186.0 275.0 C195.2 274.9 199.3 275.2 205.0 275.5 C210.7 275.8 204.2 276.6 220.0 276.8 C235.8 277.0 275.0 276.7 300.0 276.7 C325.0 276.7 357.4 276.6 370.0 276.6 C382.6 276.6 374.6 277.6 375.7 276.6 C376.8 275.6 376.6 274.4 376.9 270.6 C377.2 266.8 377.4 258.3 377.5 254.0 C377.7 249.7 377.8 245.0 377.9 245.0 C378.0 245.0 377.9 250.5 378.4 254.0 C378.9 257.5 379.4 262.8 381.0 266.0 C382.6 269.2 382.8 271.7 388.0 273.0 C393.2 274.3 408.4 273.8 412.5 274.0" stroke="rgb(20,220,20)" stroke-width="1.9"/>
<path d="M8.8 278.7 C9.7 278.7 12.5 278.7 14.0 278.7 C15.5 278.7 16.8 279.7 17.6 278.7 C18.4 277.7 18.5 275.1 18.8 272.7 C19.1 270.2 19.3 266.9 19.4 264.0 C19.6 261.1 19.7 255.0 19.8 255.0 C19.9 255.0 19.9 261.5 20.3 264.0 C20.7 266.5 20.9 267.7 22.0 270.0 C23.1 272.3 25.0 276.6 27.0 278.0 C29.0 279.4 21.8 278.3 34.0 278.3 C46.2 278.3 82.3 278.2 100.0 278.2 C117.7 278.2 131.7 278.2 140.0 278.2 C148.3 278.2 142.3 278.1 150.0 278.0 C157.7 277.9 176.8 277.6 186.0 277.5 C195.2 277.4 199.3 277.4 205.0 277.5 C210.7 277.6 204.2 277.9 220.0 278.0 C235.8 278.1 275.0 277.9 300.0 277.9 C325.0 277.8 357.4 277.7 370.0 277.7 C382.6 277.7 374.6 278.7 375.7 277.7 C376.8 276.7 376.6 274.8 376.9 271.7 C377.2 268.6 377.4 262.6 377.5 259.0 C377.7 255.4 377.8 250.0 377.9 250.0 C378.0 250.0 377.9 255.7 378.4 259.0 C378.9 262.3 379.4 267.3 381.0 270.0 C382.6 272.7 382.8 274.1 388.0 275.0 C393.2 275.9 408.4 275.4 412.5 275.5" stroke="rgb(20,220,20)" stroke-width="1.9"/>
<path d="M8.8 280.5 C9.7 280.5 12.5 280.5 14.0 280.5 C15.5 280.5 16.8 281.5 17.6 280.5 C18.4 279.5 18.5 276.8 18.8 274.5 C19.1 272.2 19.3 269.8 19.4 267.0 C19.6 264.2 19.7 258.0 19.8 258.0 C19.9 258.0 19.9 264.7 20.3 267.0 C20.7 269.3 20.9 269.8 22.0 272.0 C23.1 274.2 25.0 278.7 27.0 280.0 C29.0 281.3 21.8 280.0 34.0 280.0 C46.2 280.0 82.3 279.8 100.0 279.8 C117.7 279.8 131.7 279.8 140.0 279.8 C148.3 279.8 142.3 279.7 150.0 279.6 C157.7 279.5 176.8 279.1 186.0 279.0 C195.2 278.9 199.3 278.9 205.0 279.0 C210.7 279.1 204.2 279.3 220.0 279.3 C235.8 279.3 275.0 279.1 300.0 279.1 C325.0 279.0 357.4 278.8 370.0 278.8 C382.6 278.8 374.6 279.8 375.7 278.8 C376.8 277.8 376.6 275.3 376.9 272.8 C377.2 270.3 377.4 267.0 377.5 264.0 C377.7 261.0 377.8 255.0 377.9 255.0 C378.0 255.0 377.9 260.8 378.4 264.0 C378.9 267.2 379.4 271.3 381.0 274.0 C382.6 276.7 382.8 278.8 388.0 280.0 C393.2 281.2 408.4 281.2 412.5 281.5" stroke="rgb(20,220,20)" stroke-width="1.9"/>
<path d="M8.8 283.5 C9.7 283.5 12.5 283.5 14.0 283.5 C15.5 283.5 16.8 284.5 17.6 283.5 C18.4 282.5 18.5 279.6 18.8 277.5 C19.1 275.4 19.3 273.6 19.4 271.0 C19.6 268.4 19.7 262.0 19.8 262.0 C19.9 262.0 19.9 268.7 20.3 271.0 C20.7 273.3 20.9 274.0 22.0 276.0 C23.1 278.0 25.0 281.5 27.0 283.0 C29.0 284.5 21.8 284.6 34.0 285.0 C46.2 285.4 82.3 285.5 100.0 285.6 C117.7 285.7 131.7 285.6 140.0 285.6 C148.3 285.6 142.3 285.6 150.0 285.5 C157.7 285.4 176.8 285.2 186.0 285.2 C195.2 285.1 199.3 285.1 205.0 285.2 C210.7 285.2 204.2 285.4 220.0 285.5 C235.8 285.6 275.0 285.5 300.0 285.6 C325.0 285.6 357.4 285.6 370.0 285.6 C382.6 285.6 374.6 286.6 375.7 285.6 C376.8 284.6 376.6 282.0 376.9 279.6 C377.2 277.2 377.4 273.9 377.5 271.0 C377.7 268.1 377.8 262.0 377.9 262.0 C378.0 262.0 377.9 268.3 378.4 271.0 C378.9 273.7 379.4 276.0 381.0 278.0 C382.6 280.0 382.8 282.0 388.0 283.0 C393.2 284.0 408.4 283.8 412.5 284.0" stroke="rgb(130,235,130)" stroke-width="1.9"/>
<path d="M8.8 288.8 C9.7 288.8 12.5 288.8 14.0 288.8 C15.5 288.8 16.8 289.8 17.6 288.8 C18.4 287.8 18.5 285.1 18.8 282.8 C19.1 280.5 19.3 277.8 19.4 275.0 C19.6 272.2 19.7 266.0 19.8 266.0 C19.9 266.0 19.9 272.7 20.3 275.0 C20.7 277.3 20.9 278.0 22.0 280.0 C23.1 282.0 25.0 285.8 27.0 287.0 C29.0 288.2 21.8 287.5 34.0 287.5 C46.2 287.5 82.3 287.2 100.0 287.2 C117.7 287.1 131.7 287.2 140.0 287.2 C148.3 287.2 142.3 287.1 150.0 287.0 C157.7 286.9 176.8 286.8 186.0 286.8 C195.2 286.8 199.3 286.8 205.0 286.8 C210.7 286.8 204.2 287.0 220.0 287.0 C235.8 287.0 275.0 286.9 300.0 286.9 C325.0 286.9 357.4 286.8 370.0 286.8 C382.6 286.8 374.6 287.8 375.7 286.8 C376.8 285.8 376.6 282.8 376.9 280.8 C377.2 278.8 377.4 277.5 377.5 275.0 C377.7 272.5 377.8 266.0 377.9 266.0 C378.0 266.0 377.9 272.3 378.4 275.0 C378.9 277.7 379.4 280.1 381.0 282.0 C382.6 283.9 382.8 285.7 388.0 286.5 C393.2 287.3 408.4 286.9 412.5 287.0" stroke="rgb(20,220,20)" stroke-width="1.9"/>
<path d="M8.8 290.6 C9.7 290.6 12.5 290.6 14.0 290.6 C15.5 290.6 16.8 291.6 17.6 290.6 C18.4 289.6 18.5 286.5 18.8 284.6 C19.1 282.7 19.3 281.4 19.4 279.0 C19.6 276.6 19.7 270.0 19.8 270.0 C19.9 270.0 19.9 276.7 20.3 279.0 C20.7 281.3 20.9 282.3 22.0 284.0 C23.1 285.7 25.0 288.1 27.0 289.0 C29.0 289.9 21.8 289.3 34.0 289.3 C46.2 289.3 82.3 289.0 100.0 288.9 C117.7 288.8 131.7 288.9 140.0 288.9 C148.3 288.9 142.3 288.8 150.0 288.7 C157.7 288.6 176.8 288.4 186.0 288.4 C195.2 288.3 199.3 288.4 205.0 288.4 C210.7 288.4 204.2 288.5 220.0 288.5 C235.8 288.5 275.0 288.3 300.0 288.2 C325.0 288.2 357.4 288.0 370.0 288.0 C382.6 288.0 374.6 289.0 375.7 288.0 C376.8 287.0 376.6 283.5 376.9 282.0 C377.2 280.5 377.4 281.0 377.5 279.0 C377.7 277.0 377.8 270.0 377.9 270.0 C378.0 270.0 377.9 276.7 378.4 279.0 C378.9 281.3 379.4 282.4 381.0 284.0 C382.6 285.6 382.8 287.6 388.0 288.5 C393.2 289.4 408.4 289.3 412.5 289.5" stroke="rgb(40,225,40)" stroke-width="1.9"/>
<path d="M146 266 L146 276" stroke="rgb(40,225,40)" stroke-width="1.2"/>
<path d="M8.8 286.4 C9.8 286.4 13.6 286.8 15.0 286.4 C16.4 286.0 16.7 288.1 17.3 284.0 C17.9 279.9 18.2 268.5 18.6 262.0 C19.0 255.5 19.2 246.2 19.6 245.0 C20.0 243.8 20.6 252.8 21.0 255.0 C21.4 257.2 21.2 255.8 22.0 258.0 C22.8 260.2 24.2 265.0 26.0 268.0 C27.8 271.0 29.8 273.7 33.0 276.0 C36.2 278.3 40.5 280.8 45.0 282.0 C49.5 283.2 50.8 282.9 60.0 283.1 C69.2 283.3 85.3 283.2 100.0 283.2 C114.7 283.2 138.0 284.0 148.0 283.3 C158.0 282.6 156.7 280.1 160.0 279.0 C163.3 277.9 165.5 277.8 168.0 276.8 C170.5 275.8 171.3 273.8 175.0 273.2 C178.7 272.6 185.0 272.9 190.0 273.0 C195.0 273.1 201.7 272.7 205.0 273.5 C208.3 274.3 208.2 276.4 210.0 278.0 C211.8 279.6 200.5 282.4 215.5 283.3 C230.5 284.2 273.9 283.2 300.0 283.3 C326.1 283.4 359.5 284.4 372.0 284.2 C384.5 284.0 374.2 285.7 375.0 282.0 C375.8 278.3 376.5 267.3 377.0 262.0 C377.5 256.7 377.6 250.0 378.0 250.0 C378.4 250.0 378.8 257.7 379.5 262.0 C380.2 266.3 380.2 272.8 382.0 276.0 C383.8 279.2 384.9 279.8 390.0 281.0 C395.1 282.2 408.8 282.7 412.5 283.0" stroke="rgb(210,80,65)" stroke-width="1.6"/>
<path d="M8.8 265.0 C9.8 265.0 13.5 265.5 15.0 265.0 C16.5 264.5 17.0 266.2 17.6 262.0 C18.2 257.8 18.4 249.5 18.8 240.0 C19.2 230.5 19.5 208.0 19.8 205.0 C20.1 202.0 20.2 216.8 20.6 222.0 C21.0 227.2 21.3 233.2 22.0 236.0 C22.7 238.8 23.7 237.8 25.0 239.0 C26.3 240.2 27.5 241.2 30.0 243.0 C32.5 244.8 36.7 247.5 40.0 250.0 C43.3 252.5 46.7 255.7 50.0 258.0 C53.3 260.3 55.8 262.5 60.0 264.0 C64.2 265.5 70.0 266.4 75.0 267.1 C80.0 267.8 85.8 268.0 90.0 268.4 C94.2 268.8 97.5 269.0 100.0 269.5 C102.5 270.0 103.3 271.2 105.0 271.5 C106.7 271.8 108.7 271.7 110.0 271.5 C111.3 271.3 112.0 270.5 113.0 270.5 C114.0 270.5 115.2 271.5 116.0 271.5 C116.8 271.5 117.3 272.1 118.0 270.5 C118.7 268.9 119.3 266.2 120.0 262.0 C120.7 257.8 121.3 249.4 122.0 245.0 C122.7 240.6 123.3 237.7 124.0 235.5 C124.7 233.3 125.3 233.1 126.0 232.0 C126.7 230.9 127.0 230.3 128.0 229.0 C129.0 227.7 130.7 225.9 132.0 224.0 C133.3 222.1 134.7 219.3 136.0 217.5 C137.3 215.7 138.8 214.4 140.0 213.2 C141.2 212.0 142.2 211.4 143.0 210.5 C143.8 209.6 144.0 208.2 144.5 208.0 C145.0 207.8 145.1 209.2 146.0 209.5 C146.9 209.8 148.5 210.2 150.0 210.0 C151.5 209.8 153.3 209.0 155.0 208.5 C156.7 208.0 158.3 207.6 160.0 207.2 C161.7 206.8 163.3 206.6 165.0 206.2 C166.7 205.8 168.3 204.8 170.0 204.7 C171.7 204.5 173.3 205.1 175.0 205.3 C176.7 205.5 178.3 205.6 180.0 205.8 C181.7 206.0 183.3 206.3 185.0 206.5 C186.7 206.7 188.3 206.8 190.0 207.2 C191.7 207.6 193.3 208.8 195.0 208.9 C196.7 209.0 198.3 208.0 200.0 208.0 C201.7 208.0 203.7 207.7 205.0 208.9 C206.3 210.1 206.8 213.1 208.0 215.4 C209.2 217.8 210.0 220.9 212.0 223.0 C214.0 225.1 217.0 226.6 220.0 228.2 C223.0 229.8 226.7 231.2 230.0 232.4 C233.3 233.6 236.7 234.3 240.0 235.5 C243.3 236.7 245.8 238.1 250.0 239.3 C254.2 240.5 260.0 241.4 265.0 242.7 C270.0 243.9 275.0 245.4 280.0 246.8 C285.0 248.2 290.0 249.6 295.0 251.0 C300.0 252.4 305.8 254.2 310.0 255.0 C314.2 255.8 315.8 255.4 320.0 256.0 C324.2 256.6 330.0 257.7 335.0 258.5 C340.0 259.3 345.8 260.8 350.0 261.0 C354.2 261.2 357.5 260.2 360.0 260.0 C362.5 259.8 363.0 259.3 365.0 259.5 C367.0 259.7 370.3 261.4 372.0 261.0 C373.7 260.6 374.2 260.5 375.0 257.0 C375.8 253.5 376.3 244.8 376.8 240.0 C377.3 235.2 377.4 228.3 377.8 228.0 C378.2 227.7 378.5 234.2 379.0 238.0 C379.5 241.8 380.0 247.8 381.0 251.0 C382.0 254.2 383.5 256.0 385.0 257.0 C386.5 258.0 387.5 256.3 390.0 257.0 C392.5 257.7 396.2 259.4 400.0 261.0 C403.8 262.6 410.4 265.8 412.5 266.8" stroke="rgb(228,65,65)" stroke-width="1.6"/>
<path d="M8.8 267.3 C9.8 267.3 13.5 267.9 15.0 267.3 C16.5 266.8 17.0 268.6 17.6 264.0 C18.2 259.4 18.4 249.2 18.8 240.0 C19.2 230.8 19.4 211.0 19.8 209.0 C20.2 207.0 20.5 222.8 21.0 228.0 C21.5 233.2 22.2 237.6 23.0 240.0 C23.8 242.4 24.8 241.3 26.0 242.5 C27.2 243.7 27.7 245.2 30.0 247.0 C32.3 248.8 36.7 250.8 40.0 253.0 C43.3 255.2 46.7 257.8 50.0 260.0 C53.3 262.2 55.8 265.0 60.0 266.5 C64.2 268.0 70.0 268.2 75.0 269.0 C80.0 269.8 85.8 270.4 90.0 271.0 C94.2 271.6 97.5 271.9 100.0 272.4 C102.5 272.9 102.8 274.1 105.0 274.0 C107.2 273.9 110.8 272.2 113.0 272.0 C115.2 271.8 116.8 273.6 118.0 272.6 C119.2 271.6 119.8 269.4 120.5 266.0 C121.2 262.6 121.8 255.5 122.5 252.0 C123.2 248.5 123.8 247.0 124.5 245.0 C125.2 243.0 126.1 241.4 127.0 240.0 C127.9 238.6 128.7 238.8 130.0 236.5 C131.3 234.2 133.3 228.9 135.0 226.0 C136.7 223.1 138.3 220.8 140.0 219.3 C141.7 217.8 143.3 217.7 145.0 217.0 C146.7 216.3 148.3 216.0 150.0 215.4 C151.7 214.8 153.3 214.1 155.0 213.5 C156.7 212.9 158.3 212.4 160.0 212.1 C161.7 211.8 163.3 211.6 165.0 211.6 C166.7 211.6 168.3 211.8 170.0 212.0 C171.7 212.2 173.3 212.3 175.0 212.7 C176.7 213.0 177.5 213.8 180.0 214.1 C182.5 214.4 186.7 214.6 190.0 214.8 C193.3 215.0 197.5 215.2 200.0 215.4 C202.5 215.6 203.7 215.2 205.0 215.9 C206.3 216.6 206.8 218.3 208.0 219.7 C209.2 221.1 210.8 223.2 212.0 224.5 C213.2 225.8 212.8 226.0 215.0 227.2 C217.2 228.3 222.5 230.4 225.0 231.4 C227.5 232.4 227.5 232.6 230.0 233.4 C232.5 234.2 236.7 235.4 240.0 236.5 C243.3 237.6 246.7 238.4 250.0 240.0 C253.3 241.6 256.7 244.2 260.0 245.8 C263.3 247.5 265.8 248.7 270.0 249.9 C274.2 251.1 280.8 251.8 285.0 253.0 C289.2 254.2 291.7 255.7 295.0 257.2 C298.3 258.7 300.8 261.0 305.0 262.0 C309.2 263.0 314.2 262.9 320.0 263.4 C325.8 263.8 333.3 264.2 340.0 264.7 C346.7 265.2 354.7 266.3 360.0 266.5 C365.3 266.7 369.5 266.4 372.0 265.7 C374.5 264.9 374.2 265.9 375.0 262.0 C375.8 258.1 376.3 247.0 376.8 242.0 C377.3 237.0 377.6 231.7 378.0 232.0 C378.4 232.3 378.8 239.3 379.5 244.0 C380.2 248.7 380.6 256.0 382.0 260.0 C383.4 264.0 385.0 265.7 388.0 268.0 C391.0 270.3 395.9 272.0 400.0 274.0 C404.1 276.0 410.4 279.0 412.5 280.0" stroke="rgb(228,65,65)" stroke-width="1.6"/>
</g>
<rect x="117.2" y="293.3" width="92.4" height="5.2" fill="#000"/>
<text x="161" y="315.7" text-anchor="middle" font-family="'Liberation Sans', sans-serif" font-weight="bold" font-size="14" fill="#000">11K-12E-LA</text>
<rect x="14.2" y="297" width="2.6" height="3.6" fill="#000"/>
<text x="2.5" y="318.7" font-family="'Liberation Sans', sans-serif" font-weight="bold" font-size="18" fill="#000">K</text>
<text x="16.1" y="313.2" font-family="'Liberation Sans', sans-serif" font-weight="bold" font-size="10" fill="#000">+</text>
<rect x="374.5" y="297" width="2.6" height="3.6" fill="#000"/>
<text x="363.3" y="318.7" font-family="'Liberation Sans', sans-serif" font-weight="bold" font-size="18" fill="#000">K</text>
<text x="376.9" y="313.2" font-family="'Liberation Sans', sans-serif" font-weight="bold" font-size="10" fill="#000">+</text>
<path d="M404.3 209.8 L404.3 222 L422.8 222" stroke="#000" stroke-width="3" fill="none"/>
<text transform="translate(400.6 232.2) rotate(-90)" font-family="'Liberation Sans', sans-serif" font-weight="bold" font-size="7.2" fill="#000">&#916;340/380</text>
<text x="403.3" y="232.3" font-family="'Liberation Sans', sans-serif" font-weight="bold" font-size="10.5" fill="#000">60 s</text>
<text x="446.3" y="21.5" font-family="'Liberation Sans', sans-serif" font-weight="bold" font-size="19" fill="#000">E</text>
<path d="M503.3 131.0 L506.5 131.0" stroke="#000" stroke-width="1.4"/>
<text x="502" y="134.6" text-anchor="end" font-family="'Liberation Sans', sans-serif" font-weight="bold" font-size="10" fill="#000">0</text>
<path d="M503.3 106.6 L506.5 106.6" stroke="#000" stroke-width="1.4"/>
<text x="502" y="110.2" text-anchor="end" font-family="'Liberation Sans', sans-serif" font-weight="bold" font-size="10" fill="#000">10</text>
<path d="M503.3 82.2 L506.5 82.2" stroke="#000" stroke-width="1.4"/>
<text x="502" y="85.8" text-anchor="end" font-family="'Liberation Sans', sans-serif" font-weight="bold" font-size="10" fill="#000">20</text>
<path d="M503.3 57.8 L506.5 57.8" stroke="#000" stroke-width="1.4"/>
<text x="502" y="61.4" text-anchor="end" font-family="'Liberation Sans', sans-serif" font-weight="bold" font-size="10" fill="#000">30</text>
<path d="M503.3 33.4 L506.5 33.4" stroke="#000" stroke-width="1.4"/>
<text x="502" y="37.0" text-anchor="end" font-family="'Liberation Sans', sans-serif" font-weight="bold" font-size="10" fill="#000">40</text>
<path d="M503.3 9.0 L506.5 9.0" stroke="#000" stroke-width="1.4"/>
<text x="502" y="12.6" text-anchor="end" font-family="'Liberation Sans', sans-serif" font-weight="bold" font-size="10" fill="#000">50</text>
<path d="M519.5 103.4 L519.5 95.6 M515.5 95.6 L523.5 95.6" stroke="#000" stroke-width="2.0" fill="none"/>
<rect x="512.2" y="103.4" width="14.6" height="27.6" fill="rgb(211,211,211)" stroke="#000" stroke-width="2.0"/>
<path d="M519.5 131.0 L519.5 134.5" stroke="#000" stroke-width="1.2"/>
<path d="M545.5 108.6 L545.5 99.4 M541.5 99.4 L549.5 99.4" stroke="#000" stroke-width="2.0" fill="none"/>
<rect x="538.2" y="108.6" width="14.6" height="22.4" fill="rgb(211,211,211)" stroke="#000" stroke-width="2.0"/>
<path d="M545.5 131.0 L545.5 134.5" stroke="#000" stroke-width="1.2"/>
<path d="M571.5 48.8 L571.5 42.6 M567.5 42.6 L575.5 42.6" stroke="#000" stroke-width="2.0" fill="none"/>
<rect x="564.2" y="48.8" width="14.6" height="82.2" fill="rgb(0,0,255)" stroke="#000" stroke-width="2.0"/>
<path d="M571.5 131.0 L571.5 134.5" stroke="#000" stroke-width="1.2"/>
<path d="M597.5 60.9 L597.5 50.9 M593.5 50.9 L601.5 50.9" stroke="#000" stroke-width="2.0" fill="none"/>
<rect x="590.2" y="60.9" width="14.6" height="70.1" fill="rgb(165,10,228)" stroke="#000" stroke-width="2.0"/>
<path d="M597.5 131.0 L597.5 134.5" stroke="#000" stroke-width="1.2"/>
<path d="M623.5 52.4 L623.5 37.8 M619.5 37.8 L627.5 37.8" stroke="#000" stroke-width="2.0" fill="none"/>
<rect x="616.2" y="52.4" width="14.6" height="78.6" fill="rgb(95,95,95)" stroke="#000" stroke-width="2.0"/>
<path d="M623.5 131.0 L623.5 134.5" stroke="#000" stroke-width="1.2"/>
<path d="M649.5 92.0 L649.5 82.5 M645.5 82.5 L653.5 82.5" stroke="#000" stroke-width="2.0" fill="none"/>
<rect x="642.2" y="92.0" width="14.6" height="39.0" fill="rgb(95,95,95)" stroke="#000" stroke-width="2.0"/>
<path d="M649.5 131.0 L649.5 134.5" stroke="#000" stroke-width="1.2"/>
<path d="M675.5 71.8 L675.5 60.2 M671.5 60.2 L679.5 60.2" stroke="#000" stroke-width="2.0" fill="none"/>
<rect x="668.2" y="71.8" width="14.6" height="59.2" fill="rgb(95,95,95)" stroke="#000" stroke-width="2.0"/>
<path d="M675.5 131.0 L675.5 134.5" stroke="#000" stroke-width="1.2"/>
<path d="M506.5 9.0 L506.5 131.7" stroke="#000" stroke-width="1.5"/>
<path d="M505.8 131.0 L689 131.0" stroke="#000" stroke-width="1.8"/>
<text transform="translate(522.3 144.2) rotate(-43.0)" text-anchor="end" font-family="'Liberation Sans', sans-serif" font-weight="bold" font-size="9.5" fill="#000">LA</text>
<text transform="translate(548.3 144.2) rotate(-43.0)" text-anchor="end" font-family="'Liberation Sans', sans-serif" font-weight="bold" font-size="9.5" fill="#000">9-HODE</text>
<text transform="translate(574.3 144.2) rotate(-43.0)" text-anchor="end" font-family="'Liberation Sans', sans-serif" font-weight="bold" font-size="9.5" fill="#000">11H-12E-LA</text>
<text transform="translate(600.3 144.2) rotate(-43.0)" text-anchor="end" font-family="'Liberation Sans', sans-serif" font-weight="bold" font-size="9.5" fill="#000">11H-9E-LA</text>
<text transform="translate(626.3 144.2) rotate(-43.0)" text-anchor="end" font-family="'Liberation Sans', sans-serif" font-weight="bold" font-size="9.5" fill="#000">11K-12E-LA</text>
<text transform="translate(652.3 144.2) rotate(-43.0)" text-anchor="end" font-family="'Liberation Sans', sans-serif" font-weight="bold" font-size="9.5" fill="#000">11K-9E-LA</text>
<text transform="translate(678.3 144.2) rotate(-43.0)" text-anchor="end" font-family="'Liberation Sans', sans-serif" font-weight="bold" font-size="9.5" fill="#000">13H-9E-LA</text>
<text x="570.3" y="22.9" text-anchor="middle" font-family="'Liberation Sans', sans-serif" font-weight="bold" font-size="15" fill="#000">*</text>
<path d="M570.3 25.1 L570.3 36.1 M567.9 27.9 L572.7 27.9" stroke="#000" stroke-width="1.5" fill="none"/>
<path d="M597.5 35.6 L597.5 46.6 M595.1 38.4 L599.9 38.4" stroke="#000" stroke-width="1.5" fill="none"/>
<text x="623.0" y="20.5" text-anchor="middle" font-family="'Liberation Sans', sans-serif" font-weight="bold" font-size="15" fill="#000">*</text>
<path d="M619.7 23.2 L619.7 34.2 M617.3 26.0 L622.1 26.0" stroke="#000" stroke-width="1.5" fill="none"/>
<path d="M626.9 23.2 L626.9 34.2 M624.5 26.0 L629.3 26.0" stroke="#000" stroke-width="1.5" fill="none"/>
<text transform="translate(470.6 112) rotate(-90)" font-family="'Liberation Sans', sans-serif" font-weight="bold" font-size="10" fill="#000">Cells Responding</text>
<text transform="translate(480.6 104.5) rotate(-90)" font-family="'Liberation Sans', sans-serif" font-weight="bold" font-size="10" fill="#000">(% viable TNs)</text>
<text x="446.3" y="166.0" font-family="'Liberation Sans', sans-serif" font-weight="bold" font-size="19" fill="#000">F</text>
<path d="M503.3 286.0 L506.5 286.0" stroke="#000" stroke-width="1.4"/>
<text x="502" y="289.6" text-anchor="end" font-family="'Liberation Sans', sans-serif" font-weight="bold" font-size="10" fill="#000">0.0</text>
<path d="M503.3 250.0 L506.5 250.0" stroke="#000" stroke-width="1.4"/>
<text x="502" y="253.6" text-anchor="end" font-family="'Liberation Sans', sans-serif" font-weight="bold" font-size="10" fill="#000">0.1</text>
<path d="M503.3 214.0 L506.5 214.0" stroke="#000" stroke-width="1.4"/>
<text x="502" y="217.6" text-anchor="end" font-family="'Liberation Sans', sans-serif" font-weight="bold" font-size="10" fill="#000">0.2</text>
<path d="M503.3 178.0 L506.5 178.0" stroke="#000" stroke-width="1.4"/>
<text x="502" y="181.6" text-anchor="end" font-family="'Liberation Sans', sans-serif" font-weight="bold" font-size="10" fill="#000">0.3</text>
<path d="M519.5 216.3 L519.5 180.8 M515.5 180.8 L523.5 180.8" stroke="#000" stroke-width="2.0" fill="none"/>
<rect x="512.2" y="216.3" width="14.6" height="69.7" fill="rgb(211,211,211)" stroke="#000" stroke-width="2.0"/>
<path d="M519.5 286.0 L519.5 289.5" stroke="#000" stroke-width="1.2"/>
<path d="M545.5 236.5 L545.5 217.0 M541.5 217.0 L549.5 217.0" stroke="#1a1a1a" stroke-width="1.5" fill="none"/>
<rect x="538.2" y="236.5" width="14.6" height="49.5" fill="rgb(211,211,211)" stroke="#1a1a1a" stroke-width="1.5"/>
<path d="M545.5 286.0 L545.5 289.5" stroke="#000" stroke-width="1.2"/>
<path d="M571.5 227.9 L571.5 209.6 M567.5 209.6 L575.5 209.6" stroke="#000" stroke-width="2.0" fill="none"/>
<rect x="564.2" y="227.9" width="14.6" height="58.1" fill="rgb(0,0,255)" stroke="#000" stroke-width="2.0"/>
<path d="M571.5 286.0 L571.5 289.5" stroke="#000" stroke-width="1.2"/>
<path d="M597.5 239.7 L597.5 230.8 M593.5 230.8 L601.5 230.8" stroke="#000" stroke-width="2.0" fill="none"/>
<rect x="590.2" y="239.7" width="14.6" height="46.3" fill="rgb(165,10,228)" stroke="#000" stroke-width="2.0"/>
<path d="M597.5 286.0 L597.5 289.5" stroke="#000" stroke-width="1.2"/>
<path d="M623.5 236.4 L623.5 224.0 M619.5 224.0 L627.5 224.0" stroke="#000" stroke-width="2.0" fill="none"/>
<rect x="616.2" y="236.4" width="14.6" height="49.6" fill="rgb(95,95,95)" stroke="#000" stroke-width="2.0"/>
<path d="M623.5 286.0 L623.5 289.5" stroke="#000" stroke-width="1.2"/>
<path d="M649.5 216.3 L649.5 195.9 M645.5 195.9 L653.5 195.9" stroke="#000" stroke-width="2.0" fill="none"/>
<rect x="642.2" y="216.3" width="14.6" height="69.7" fill="rgb(95,95,95)" stroke="#000" stroke-width="2.0"/>
<path d="M649.5 286.0 L649.5 289.5" stroke="#000" stroke-width="1.2"/>
<path d="M675.5 222.1 L675.5 214.0 M671.5 214.0 L679.5 214.0" stroke="#000" stroke-width="2.0" fill="none"/>
<rect x="668.2" y="222.1" width="14.6" height="63.9" fill="rgb(95,95,95)" stroke="#000" stroke-width="2.0"/>
<path d="M675.5 286.0 L675.5 289.5" stroke="#000" stroke-width="1.2"/>
<path d="M506.5 163.0 L506.5 286.7" stroke="#000" stroke-width="1.5"/>
<path d="M505.8 286.0 L689 286.0" stroke="#000" stroke-width="1.8"/>
<text transform="translate(521.2 299.3) rotate(-45.0)" text-anchor="end" font-family="'Liberation Sans', sans-serif" font-weight="bold" font-size="10.0" fill="#000">LA</text>
<text transform="translate(547.2 299.3) rotate(-45.0)" text-anchor="end" font-family="'Liberation Sans', sans-serif" font-weight="bold" font-size="10.0" fill="#000">9-HODE</text>
<text transform="translate(573.2 299.3) rotate(-45.0)" text-anchor="end" font-family="'Liberation Sans', sans-serif" font-weight="bold" font-size="10.0" fill="#000">11H-12E-LA</text>
<text transform="translate(599.2 299.3) rotate(-45.0)" text-anchor="end" font-family="'Liberation Sans', sans-serif" font-weight="bold" font-size="10.0" fill="#000">11H-9E-LA</text>
<text transform="translate(625.2 299.3) rotate(-45.0)" text-anchor="end" font-family="'Liberation Sans', sans-serif" font-weight="bold" font-size="10.0" fill="#000">11K-12E-LA</text>
<text transform="translate(651.2 299.3) rotate(-45.0)" text-anchor="end" font-family="'Liberation Sans', sans-serif" font-weight="bold" font-size="10.0" fill="#000">11K-9E-LA</text>
<text transform="translate(677.2 299.3) rotate(-45.0)" text-anchor="end" font-family="'Liberation Sans', sans-serif" font-weight="bold" font-size="10.0" fill="#000">13H-9E-LA</text>
<text transform="translate(468.8 279.2) rotate(-90)" font-family="'Liberation Sans', sans-serif" font-weight="bold" font-size="10" fill="#000">Peak Calcium response</text>
<text transform="translate(484.3 245.5) rotate(-90)" font-family="'Liberation Sans', sans-serif" font-weight="normal" font-size="10" fill="#000">&#916; 340/380</text>
</svg></body></html>
